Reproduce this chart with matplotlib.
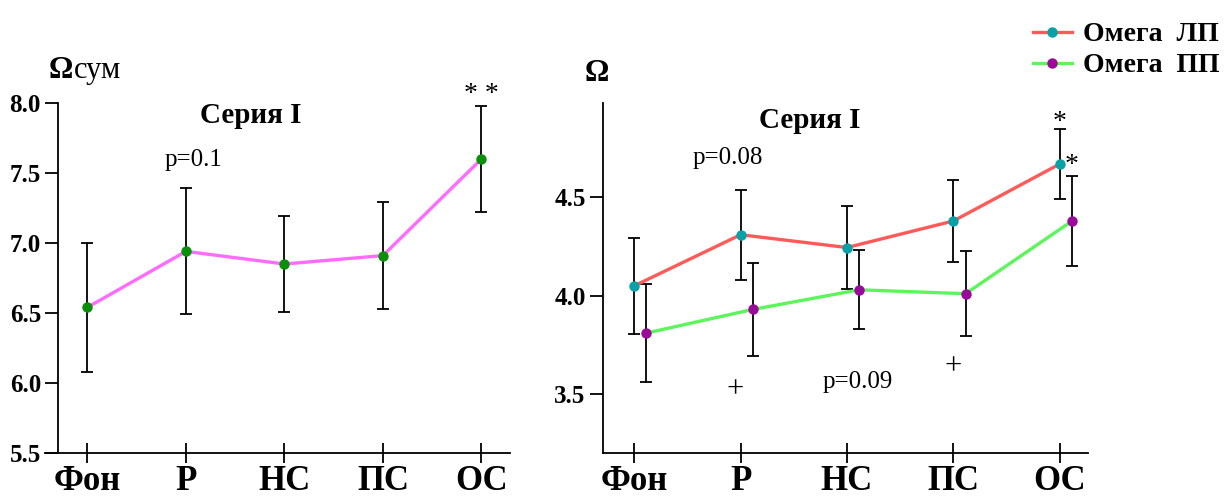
import matplotlib.pyplot as plt
from matplotlib.lines import Line2D
import numpy as np

# ------------- data
stages = ["Фон", "Р", "НС", "ПС", "ОС"]

omega_sum = [6.54, 6.94, 6.85, 6.91, 7.60]
omega_sum_err = [0.46, 0.45, 0.34, 0.38, 0.38]

omega_lp = [4.05, 4.31, 4.245, 4.38, 4.67]
omega_lp_err = [0.245, 0.23, 0.21, 0.21, 0.18]

omega_pp = [3.81, 3.93, 4.03, 4.01, 4.38]
omega_pp_err = [0.25, 0.235, 0.20, 0.215, 0.23]

left_yticks = [5.5, 6.0, 6.5, 7.0, 7.5, 8.0]
right_yticks = [3.5, 4.0, 4.5]

plt.rcParams['font.family'] = ['Liberation Serif', 'DejaVu Serif']

W, H = 1229, 496
fig = plt.figure(figsize=(W / 100, H / 100), dpi=100)


def fx(px):
    return px / W


def fy(py):
    return 1 - py / H


x = np.arange(len(stages))

# ------------- left panel
ax1 = fig.add_axes([fx(45), fy(453), fx(510 - 45), (453 - 103) / H])
ax1.set_xlim(-0.43, 4.29)
ax1.set_ylim(5.5, 8.0)
ax1.errorbar(x, omega_sum, yerr=omega_sum_err, fmt='none', ecolor='black',
             elinewidth=1.3, capsize=4, capthick=1.3, zorder=2)
ax1.plot(x, omega_sum, color='#ff6bff', lw=2.4, zorder=3)
ax1.plot(x, omega_sum, 'o', color='#0a8f0a', ms=6.5, zorder=4)
ax1.spines['left'].set_position(('data', -0.295))

# ------------- right panel
ax2 = fig.add_axes([fx(603), fy(453), fx(1088 - 603), (453 - 103) / H])
ax2.set_xlim(-0.293, 4.265)
ax2.set_ylim(3.2, 4.98)
off = 0.115
ax2.errorbar(x, omega_lp, yerr=omega_lp_err, fmt='none', ecolor='black',
             elinewidth=1.3, capsize=4, capthick=1.3, zorder=2)
ax2.errorbar(x + off, omega_pp, yerr=omega_pp_err, fmt='none', ecolor='black',
             elinewidth=1.3, capsize=4, capthick=1.3, zorder=2)
ax2.plot(x, omega_lp, color='#ff5a5a', lw=2.4, zorder=3)
ax2.plot(x, omega_lp, 'o', color='#0aa0a8', ms=6.5, zorder=4)
ax2.plot(x + off, omega_pp, color='#5cf55c', lw=2.4, zorder=3)
ax2.plot(x + off, omega_pp, 'o', color='#9a0a9a', ms=6.5, zorder=4)

for ax, yt in ((ax1, left_yticks), (ax2, right_yticks)):
    ax.set_facecolor('none')
    for s in ('top', 'right'):
        ax.spines[s].set_visible(False)
    for s in ('left', 'bottom'):
        ax.spines[s].set_linewidth(1.3)
    ax.set_xticks(x)
    ax.set_xticklabels(stages, fontsize=25, fontweight='bold')
    ax.set_yticks(yt)
    ax.set_yticklabels([f"{v:.1f}" for v in yt], fontsize=18, fontweight='bold')
    ax.tick_params(axis='x', direction='inout', length=15, width=1.3, pad=1)
    ax.tick_params(axis='y', direction='out', length=9.5, width=1.3, pad=3)

# ------------- annotations
ax1.text(1.66, 7.91, "Серия I", fontsize=21, fontweight='bold', ha='center',
         va='center', clip_on=False)
ax1.text(1.08, 7.59, "p=0.1", fontsize=18, ha='center', va='center')
ax1.text(4.0, 8.06, "* *", fontsize=20, ha='center', va='center', clip_on=False)
fig.text(fx(49), fy(78), "Ω", fontsize=22, fontweight='bold', va='baseline')
fig.text(fx(74), fy(78), "сум", fontsize=22, va='baseline')

ax2.text(1.65, 4.89, "Серия I", fontsize=21, fontweight='bold', ha='center',
         va='center', clip_on=False)
ax2.text(0.88, 4.70, "p=0.08", fontsize=18, ha='center', va='center')
ax2.text(2.1, 3.56, "p=0.09", fontsize=18, ha='center', va='center')
ax2.text(0.95, 3.52, "+", fontsize=22, ha='center', va='center')
ax2.text(3.0, 3.64, "+", fontsize=22, ha='center', va='center')
ax2.text(4.0, 4.88, "*", fontsize=20, ha='center', va='center', clip_on=False)
ax2.text(4.11, 4.66, "*", fontsize=20, ha='center', va='center', clip_on=False)
fig.text(fx(585), fy(81), "Ω", fontsize=22, fontweight='bold', va='baseline')

# ------------- legend
handles = [
    Line2D([], [], color='#ff5a5a', lw=2.4, marker='o', ms=6.5,
           markerfacecolor='#0aa0a8', markeredgecolor='#0aa0a8'),
    Line2D([], [], color='#5cf55c', lw=2.4, marker='o', ms=6.5,
           markerfacecolor='#9a0a9a', markeredgecolor='#9a0a9a'),
]
fig.legend(handles, ["Омега  ЛП", "Омега  ПП"], loc='upper left',
           bbox_to_anchor=(fx(1033), fy(22)), frameon=False,
           prop={'size': 20, 'weight': 'bold'}, handlelength=1.4,
           handletextpad=0.4, labelspacing=0.2, borderpad=0, borderaxespad=0)

fig.savefig("out.png", dpi=100)
